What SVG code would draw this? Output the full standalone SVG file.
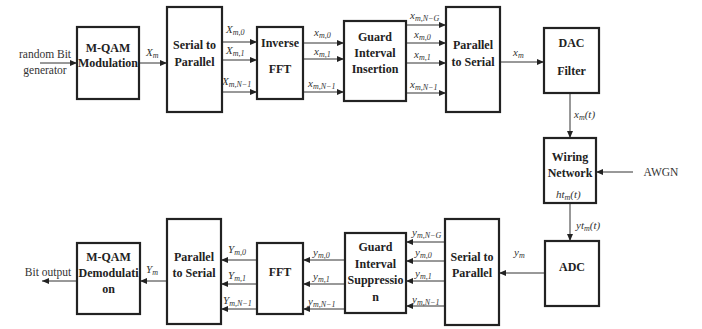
<svg xmlns="http://www.w3.org/2000/svg" width="702" height="329" viewBox="0 0 702 329" font-family="'Liberation Serif', 'DejaVu Serif', serif">
<defs>
<marker id="ah" markerWidth="7" markerHeight="6" refX="7" refY="3" orient="auto" markerUnits="userSpaceOnUse">
<path d="M0,0 L7,3 L0,6 Z" fill="#222"/>
</marker>
<style>
.box{fill:#fff;stroke:#222;stroke-width:2.2}
text{font-family:'Liberation Serif','DejaVu Serif',serif}
.t{font-weight:bold;font-size:12px;fill:#222;text-anchor:middle}
.r{font-size:11.5px;fill:#333;text-anchor:middle}
.m{font-style:italic;font-size:11px;fill:#333}
.s{font-size:8px}
.c line{stroke:#333;stroke-width:1;marker-end:url(#ah)}
</style>
</defs>
<rect width="702" height="329" fill="#fff"/>

<g class="c" id="connectors">
<line x1="40" y1="63" x2="77" y2="63"/>
<line x1="139" y1="63" x2="167" y2="63"/>
<line x1="222" y1="42" x2="257" y2="42"/>
<line x1="222" y1="60" x2="257" y2="60"/>
<line x1="222" y1="92" x2="257" y2="92"/>
<line x1="303" y1="43" x2="344" y2="43"/>
<line x1="303" y1="59" x2="344" y2="59"/>
<line x1="303" y1="92" x2="344" y2="92"/>
<line x1="406" y1="25" x2="446" y2="25"/>
<line x1="406" y1="43" x2="446" y2="43"/>
<line x1="406" y1="63" x2="446" y2="63"/>
<line x1="406" y1="93" x2="446" y2="93"/>
<line x1="500" y1="62" x2="544" y2="62"/>
<line x1="570" y1="93" x2="570" y2="138"/>
<line x1="633" y1="172" x2="596" y2="172"/>
<line x1="570" y1="203" x2="570" y2="241"/>
<line x1="545" y1="273" x2="499" y2="273"/>
<line x1="445" y1="242" x2="406" y2="242"/>
<line x1="445" y1="261" x2="406" y2="261"/>
<line x1="445" y1="281" x2="406" y2="281"/>
<line x1="445" y1="306" x2="406" y2="306"/>
<line x1="345" y1="260" x2="303" y2="260"/>
<line x1="345" y1="284" x2="303" y2="284"/>
<line x1="345" y1="309" x2="303" y2="309"/>
<line x1="257" y1="260" x2="221" y2="260"/>
<line x1="257" y1="284" x2="221" y2="284"/>
<line x1="257" y1="309" x2="221" y2="309"/>
<line x1="167" y1="281" x2="140" y2="281"/>
<line x1="77" y1="281" x2="42" y2="281"/>
</g>

<g id="labels">
<text class="r" x="45" y="58">random Bit</text>
<text class="r" x="45" y="74">generator</text>
<text class="m" x="146" y="56">X<tspan class="s" dy="2">m</tspan></text>
<text class="m" x="226" y="33">X<tspan class="s" dy="2">m,0</tspan></text>
<text class="m" x="226" y="54">X<tspan class="s" dy="2">m,1</tspan></text>
<text class="m" x="222" y="85">X<tspan class="s" dy="2">m,N−1</tspan></text>
<text class="m" x="314" y="36">x<tspan class="s" dy="2">m,0</tspan></text>
<text class="m" x="314" y="55">x<tspan class="s" dy="2">m,1</tspan></text>
<text class="m" x="308" y="87">x<tspan class="s" dy="2">m,N−1</tspan></text>
<text class="m" x="410" y="19">x<tspan class="s" dy="2">m,N−G</tspan></text>
<text class="m" x="414" y="38">x<tspan class="s" dy="2">m,0</tspan></text>
<text class="m" x="414" y="58">x<tspan class="s" dy="2">m,1</tspan></text>
<text class="m" x="410" y="88">x<tspan class="s" dy="2">m,N−1</tspan></text>
<text class="m" x="513" y="56">x<tspan class="s" dy="2">m</tspan></text>
<text class="m" x="574" y="118">x<tspan class="s" dy="2">m</tspan><tspan dy="-2">(t)</tspan></text>
<text class="r" x="661" y="176">AWGN</text>
<text class="m" x="576" y="229">yt<tspan class="s" dy="2">m</tspan><tspan dy="-2">(t)</tspan></text>
<text class="m" x="514" y="256">y<tspan class="s" dy="2">m</tspan></text>
<text class="m" x="412" y="236">y<tspan class="s" dy="2">m,N−G</tspan></text>
<text class="m" x="415" y="256">y<tspan class="s" dy="2">m,0</tspan></text>
<text class="m" x="415" y="277">y<tspan class="s" dy="2">m,1</tspan></text>
<text class="m" x="412" y="303">y<tspan class="s" dy="2">m,N−1</tspan></text>
<text class="m" x="313" y="256">y<tspan class="s" dy="2">m,0</tspan></text>
<text class="m" x="313" y="280">y<tspan class="s" dy="2">m,1</tspan></text>
<text class="m" x="308" y="305">y<tspan class="s" dy="2">m,N−1</tspan></text>
<text class="m" x="228" y="253">Y<tspan class="s" dy="2">m,0</tspan></text>
<text class="m" x="228" y="279">Y<tspan class="s" dy="2">m,1</tspan></text>
<text class="m" x="223" y="304">Y<tspan class="s" dy="2">m,N−1</tspan></text>
<text class="m" x="146" y="273">Y<tspan class="s" dy="2">m</tspan></text>
<text class="r" x="48" y="276">Bit output</text>
</g>

<g id="mqam-mod"><rect class="box" x="77" y="27" width="62" height="72"/>
<text class="t" x="108" y="52">M-QAM</text><text class="t" x="108" y="67">Modulation</text></g>
<g id="sp-top"><rect class="box" x="167" y="7" width="55" height="105"/>
<text class="t" x="194.5" y="49">Serial to</text><text class="t" x="194.5" y="66">Parallel</text></g>
<g id="ifft"><rect class="box" x="257" y="27" width="46" height="72"/>
<text class="t" x="280" y="47">Inverse</text><text class="t" x="280" y="73">FFT</text></g>
<g id="gi-insert"><rect class="box" x="344" y="21" width="62" height="80"/>
<text class="t" x="375" y="41">Guard</text><text class="t" x="375" y="57">Interval</text><text class="t" x="375" y="73">Insertion</text></g>
<g id="ps-top"><rect class="box" x="446" y="7" width="54" height="105"/>
<text class="t" x="473" y="49">Parallel</text><text class="t" x="473" y="66">to Serial</text></g>
<g id="dac"><rect class="box" x="544" y="28" width="55" height="65"/>
<text class="t" x="571.5" y="47">DAC</text><text class="t" x="571.5" y="75">Filter</text></g>
<g id="wiring"><rect class="box" x="544" y="138" width="52" height="65"/>
<text class="t" x="570" y="161">Wiring</text><text class="t" x="570" y="177">Network</text>
<text class="m" x="556" y="198">ht<tspan class="s" dy="2">m</tspan><tspan dy="-2">(t)</tspan></text></g>
<g id="adc"><rect class="box" x="545" y="241" width="54" height="65"/>
<text class="t" x="572" y="271">ADC</text></g>
<g id="sp-bottom"><rect class="box" x="445" y="219" width="54" height="106"/>
<text class="t" x="472" y="261">Serial to</text><text class="t" x="472" y="277">Parallel</text></g>
<g id="gi-suppress"><rect class="box" x="345" y="233" width="61" height="80"/>
<text class="t" x="375.5" y="251">Guard</text><text class="t" x="375.5" y="268">Interval</text><text class="t" x="375.5" y="284">Suppressio</text><text class="t" x="375.5" y="301">n</text></g>
<g id="fft"><rect class="box" x="257" y="243" width="46" height="71"/>
<text class="t" x="280" y="276">FFT</text></g>
<g id="ps-bottom"><rect class="box" x="167" y="219" width="54" height="105"/>
<text class="t" x="194" y="261">Parallel</text><text class="t" x="194" y="277">to Serial</text></g>
<g id="mqam-demod"><rect class="box" x="77" y="243" width="63" height="71"/>
<text class="t" x="108.5" y="261">M-QAM</text><text class="t" x="108.5" y="277">Demodulati</text><text class="t" x="108.5" y="293">on</text></g>
</svg>
